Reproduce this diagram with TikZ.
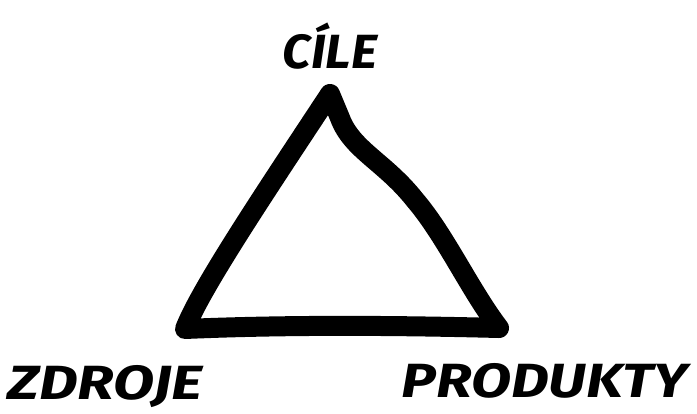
\documentclass[tikz,border=0pt]{standalone}
\usepackage{fontspec}
\setmainfont{Fira Sans}
\definecolor{inkblack}{HTML}{000000}

\begin{document}
\begin{tikzpicture}[x=1pt,y=-1pt]
        \def\strokewidth{20pt}
        \def\inkcolor{inkblack}
        \tikzset{
            label text/.style={text=\inkcolor, font=\fontsize{48}{48}\selectfont\bfseries\itshape, inner sep=0pt, anchor=base}
        }

        % fix picture size
        \useasboundingbox (0, 0) rectangle (697, 413);

        % the triangle
        \coordinate (top) at (330, 94);
        \coordinate (left) at (185, 329);
        \coordinate (right) at (499, 328);
        \draw [\inkcolor, line width=\strokewidth, line join=round, line cap=round]
            (top) .. controls (260, 200) and (200, 290) .. (left)
            .. controls (300, 324) and (420, 326) .. (right)
            .. controls (470, 290) and (445, 235) .. (415, 200)
            .. controls (385, 162) and (352, 150) .. (340, 118)
            -- cycle
        ;

        % the labels
        \node [label text] (cile) at (330, 68) {\scalebox{1.05}[1]{CÍLE}};
        \node [label text] (zdroje) at (105, 399) {\scalebox{1.25}[1]{ZDROJE}};
        \node [label text] (produkty) at (545, 397) {\scalebox{1.22}[1]{PRODUKTY}};
    \end{tikzpicture}
\end{document}
